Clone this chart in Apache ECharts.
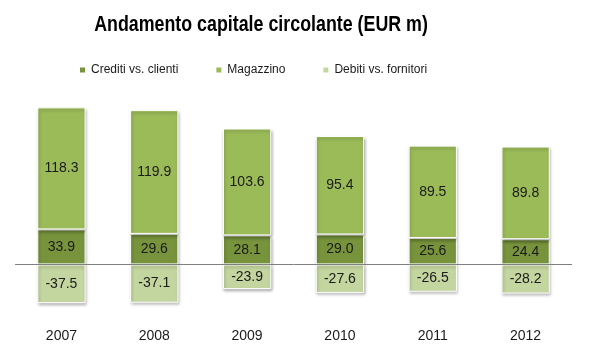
<!DOCTYPE html>
<html>
<head>
<meta charset="utf-8">
<script src="https://cdn.jsdelivr.net/npm/echarts@6/dist/echarts.min.js"></script>
<style>
html,body{margin:0;padding:0;background:#fff;}
#chart{width:594px;height:357px;}
</style>
</head>
<body>
<div id="chart"></div>
<script>
const titleText = 'Andamento capitale circolante (EUR m)';
const years = ['2007','2008','2009','2010','2011','2012'];
const crediti = [33.9, 29.6, 28.1, 29.0, 25.6, 24.4];
const magazzino = [118.3, 119.9, 103.6, 95.4, 89.5, 89.8];
const debiti = [-37.5, -37.1, -23.9, -27.6, -26.5, -28.2];

const sans = "'Liberation Sans', Arial, sans-serif";
const lbl = {show:true, position:'inside', color:'#1a1a1a', fontSize:14, fontFamily:sans, formatter: p => p.value.toFixed(1)};
const shadow = {borderColor:'#ffffff', borderWidth:1, shadowBlur:3, shadowOffsetX:1, shadowOffsetY:2, shadowColor:'rgba(0,0,0,0.3)'};

const chart = echarts.init(document.getElementById('chart'));
chart.setOption({
  animation:false,
  graphic:[{type:'text', x:261, y:25, scaleX:0.81, silent:true,
    style:{text:titleText, fill:'#000', font:"bold 22px 'Liberation Sans', Arial, sans-serif", textAlign:'center', textVerticalAlign:'middle'}}],
  legend:{top:59, left:73, itemWidth:7, itemHeight:7, itemGap:36, icon:'rect',
    textStyle:{fontSize:12, color:'#1a1a1a', fontFamily:sans}},
  grid:{left:15, right:22, top:58, bottom:41},
  xAxis:{type:'category', data:years, axisLine:{show:false, onZero:false}, axisTick:{show:false},
    axisLabel:{fontSize:14, color:'#1a1a1a', margin:13, fontFamily:sans}},
  yAxis:{type:'value', min:-50, max:200, show:false, splitLine:{show:false}},
  series:[
    {name:'Crediti vs. clienti', type:'bar', stack:'a', barWidth:'52%', data:crediti,
      itemStyle:Object.assign({color:'#77933C'}, shadow), label:lbl,
      markLine:{silent:true, symbol:'none', label:{show:false}, lineStyle:{color:'#808080', width:1, type:'solid'}, data:[{yAxis:0}]}},
    {name:'Magazzino', type:'bar', stack:'a', data:magazzino,
      itemStyle:Object.assign({color:'#9BBB59'}, shadow), label:lbl},
    {name:'Debiti vs. fornitori', type:'bar', stack:'a', data:debiti,
      itemStyle:Object.assign({color:'#C4D6A0'}, shadow), label:lbl}
  ]
});
</script>
</body>
</html>
